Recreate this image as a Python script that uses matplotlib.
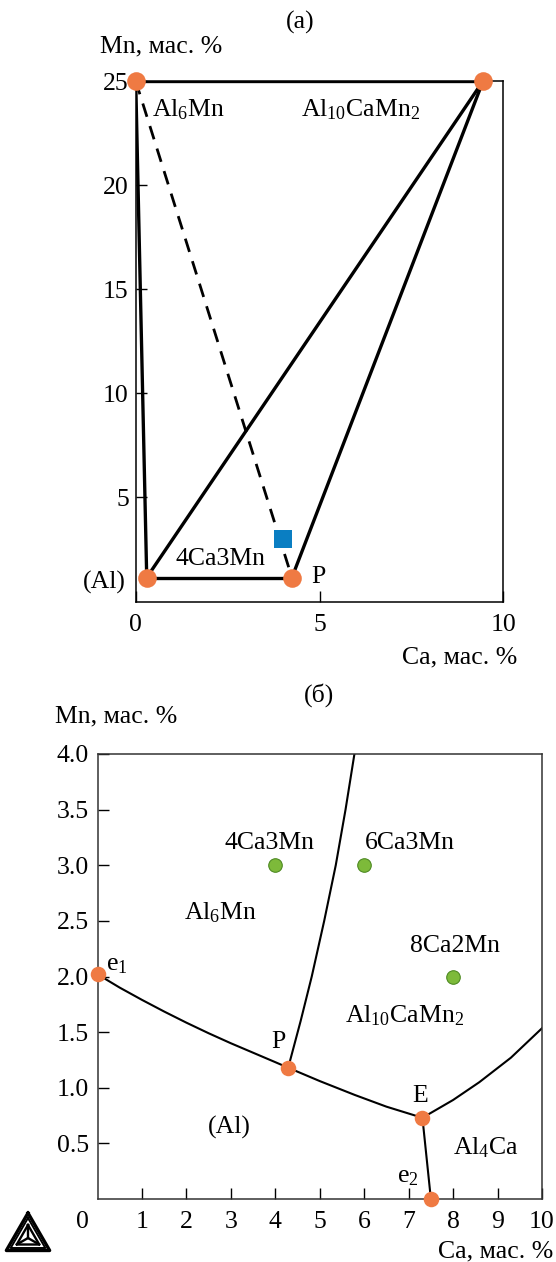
import numpy as np
import matplotlib
matplotlib.use('Agg')
from matplotlib import pyplot as plt

plt.rcParams['font.family'] = ['Liberation Serif', 'DejaVu Serif']
plt.rcParams['mathtext.fontset'] = 'custom'
plt.rcParams['mathtext.rm'] = 'Liberation Serif'
plt.rcParams['mathtext.it'] = 'Liberation Serif'

# -----------------------------------------------
# (а) concentration triangle
node_names = ['Al6Mn', 'Al10CaMn2', '(Al)', 'P']
node_ca = [0.0, 9.45, 0.3, 4.25]
node_mn = [25.0, 25.0, 1.15, 1.15]
tie_lines = [(0, 1), (0, 2), (2, 3), (2, 1), (3, 1)]
dashed_line = (0, 3)
alloy_ca = [4.0]
alloy_mn = [3.0]
top_xticks = [0, 5, 10]
top_yticks = [5, 10, 15, 20, 25]

# (б) liquidus projection
e1_p_ca = [0.0, 0.5, 1.0, 1.5, 2.0, 2.5, 3.0, 3.5, 4.0, 4.29]
e1_p_mn = [2.02, 1.90, 1.79, 1.685, 1.585, 1.49, 1.40, 1.315, 1.23, 1.18]
p_e_ca = [4.29, 5.0, 5.79, 6.5, 7.31]
p_e_mn = [1.18, 1.06, 0.935, 0.83, 0.73]
e_right_ca = [7.31, 8.0, 8.59, 9.3, 10.0]
e_right_mn = [0.73, 0.89, 1.05, 1.27, 1.535]
e_e2_ca = [7.31, 7.5]
e_e2_mn = [0.73, 0.0]
p_top_ca = [4.29, 4.57, 4.82, 5.10, 5.36, 5.58, 5.78]
p_top_mn = [1.18, 1.6, 2.0, 2.5, 3.0, 3.5, 4.0]
inv_ca = [0.0, 4.29, 7.31, 7.5]   # e1, P, E, e2
inv_mn = [2.02, 1.18, 0.73, 0.0]
alloys_ca = [4.0, 6.0, 8.0]
alloys_mn = [3.0, 3.0, 2.0]
alloy_names = ['4Ca3Mn', '6Ca3Mn', '8Ca2Mn']
bot_xticks = [1, 2, 3, 4, 5, 6, 7, 8, 9, 10]
bot_yticks = [0.5, 1.0, 1.5, 2.0, 2.5, 3.0, 3.5, 4.0]
# -----------------------------------------------

W, H = 556, 1262
orange = '#EF7A43'
fs = 18.5

fig = plt.figure(figsize=(W / 100, H / 100), dpi=100)

# background axes in pixel coordinates for figure-level texts and the logo
bg = fig.add_axes([0, 0, 1, 1], zorder=-1)
bg.set_xlim(0, W)
bg.set_ylim(H, 0)
bg.axis('off')


def px_axes(left, top, right, bottom):
    return fig.add_axes([left / W, 1 - bottom / H, (right - left) / W, (bottom - top) / H])


# ---------------- (а)
ax1 = px_axes(135.7, 81, 503.3, 601.5)
for i, j in tie_lines:
    ax1.plot([node_ca[i], node_ca[j]], [node_mn[i], node_mn[j]], color='black', lw=2.4,
             solid_capstyle='round', zorder=2)
i, j = dashed_line
ax1.plot([node_ca[i], node_ca[j]], [node_mn[i], node_mn[j]], color='black', lw=2.0,
         dashes=(5, 3.5), zorder=2)
ax1.scatter(node_ca, node_mn, s=180, color=orange, zorder=4, clip_on=False, linewidths=0)
ax1.scatter(alloy_ca, alloy_mn, s=150, marker='s', color='#0A7EC2', zorder=4, linewidths=0)

ax1.set_xlim(0, 10)
ax1.set_ylim(0, 25)
ax1.set_xticks(top_xticks)
ax1.set_yticks(top_yticks)
ax1.tick_params(direction='in', length=8, width=1, labelsize=fs, pad=9)
ax1.tick_params(axis='y', pad=5)
for s in ax1.spines.values():
    s.set_linewidth(1.1)

ax1.text(0.43, 23.6, r'Al$_6$Mn', fontsize=fs, va='center', ha='left')
ax1.text(6.13, 23.6, r'Al$_{10}$CaMn$_2$', fontsize=fs, va='center', ha='center')
ax1.text(2.32, 2.05, '4Ca3Mn', fontsize=fs, va='center', ha='center')
ax1.text(4.97, 1.2, 'P', fontsize=fs, va='center', ha='center')

bg.text(300, 22, '(а)', fontsize=fs, ha='center', va='center')
bg.text(100, 46, 'Mn, мас. %', fontsize=fs, ha='left', va='center')
bg.text(104, 582, '(Al)', fontsize=fs, ha='center', va='center')
bg.text(517, 657, 'Ca, мас. %', fontsize=fs, ha='right', va='center')

# ---------------- (б)
ax2 = px_axes(97.5, 754, 542, 1199)
for cx, cy in [(e1_p_ca, e1_p_mn), (p_e_ca, p_e_mn), (e_right_ca, e_right_mn),
               (e_e2_ca, e_e2_mn), (p_top_ca, p_top_mn)]:
    ax2.plot(cx, cy, color='black', lw=1.5, zorder=2)
ax2.scatter(inv_ca, inv_mn, s=125, color=orange, zorder=4, clip_on=False, linewidths=0)
ax2.scatter(alloys_ca, alloys_mn, s=95, color='#7DBA3A', edgecolors='#4E8A22',
            linewidths=0.8, zorder=4)

ax2.set_xlim(0, 10)
ax2.set_ylim(0, 4)
ax2.set_xticks(bot_xticks)
ax2.set_yticks(bot_yticks)
ax2.set_yticklabels([f'{v:.1f}' for v in bot_yticks])
ax2.tick_params(direction='in', length=8, width=1, labelsize=fs, pad=9)
ax2.tick_params(axis='y', pad=6)
for s in ax2.spines.values():
    s.set_linewidth(1.1)
    s.set_color('#333333')

ax2.text(alloys_ca[0] - 0.12, 3.2, alloy_names[0], fontsize=fs, ha='center', va='center')
ax2.text(alloys_ca[1] + 1.03, 3.2, alloy_names[1], fontsize=fs, ha='center', va='center')
ax2.text(alloys_ca[2] + 0.04, 2.27, alloy_names[2], fontsize=fs, ha='center', va='center')
ax2.text(2.76, 2.57, r'Al$_6$Mn', fontsize=fs, ha='center', va='center')
ax2.text(0.2, 2.1, r'e$_1$', fontsize=fs, ha='left', va='center')
ax2.text(6.9, 1.65, r'Al$_{10}$CaMn$_2$', fontsize=fs, ha='center', va='center')
ax2.text(4.06, 1.41, 'P', fontsize=fs, ha='center', va='center')
ax2.text(7.25, 0.93, 'E', fontsize=fs, ha='center', va='center')
ax2.text(2.96, 0.64, '(Al)', fontsize=fs, ha='center', va='center')
ax2.text(8.73, 0.46, r'Al$_4$Ca', fontsize=fs, ha='center', va='center')
ax2.text(6.99, 0.2, r'e$_2$', fontsize=fs, ha='center', va='center')

bg.text(319, 695, '(б)', fontsize=fs, ha='center', va='center')
bg.text(55, 716, 'Mn, мас. %', fontsize=fs, ha='left', va='center')
bg.text(82, 1222, '0', fontsize=fs, ha='center', va='center')
bg.text(553, 1251, 'Ca, мас. %', fontsize=fs, ha='right', va='center')

# Thermo-Calc logo
ox, oy = 28, 1238
for r, lw in [(25, 2.4), (20, 1.4), (13, 1.7)]:
    ang = np.deg2rad([90, 210, 330, 90])
    bg.plot(ox + r * np.cos(ang), oy - r * np.sin(ang), color='black', lw=lw)
ang = np.deg2rad([90, 210, 330])
for a in ang:
    bg.plot([ox, ox + 13 * np.cos(a)], [oy, oy - 13 * np.sin(a)], color='black', lw=1.7)

fig.savefig('out.png', dpi=100)
